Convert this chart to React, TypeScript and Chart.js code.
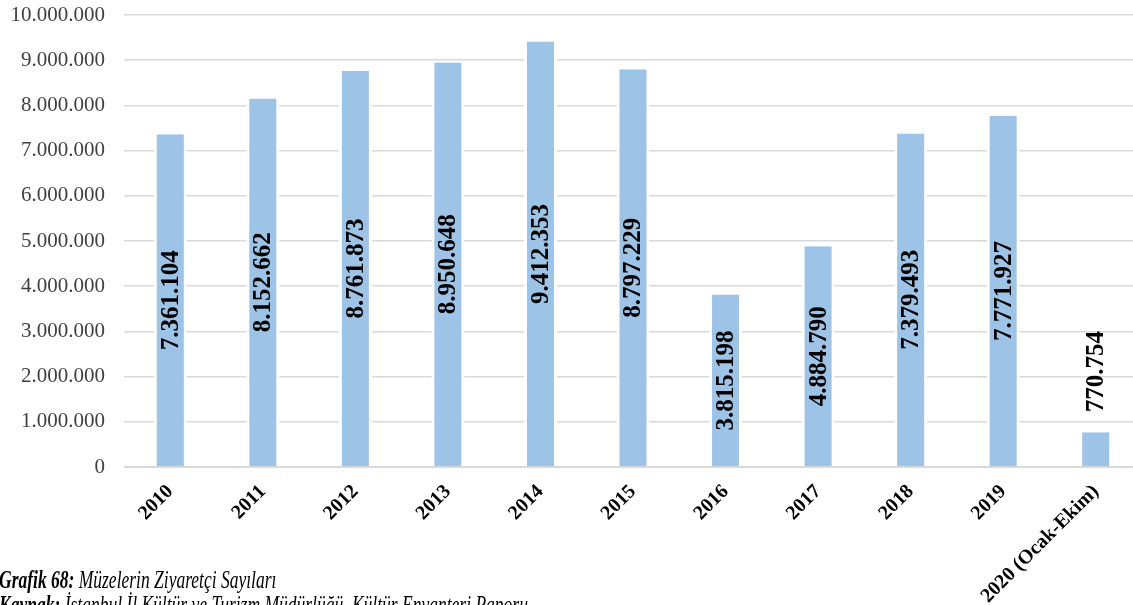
import React, { useEffect, useRef } from "react";
import { Chart, registerables } from "chart.js";

Chart.register(...registerables);

const categories = [
  "2010",
  "2011",
  "2012",
  "2013",
  "2014",
  "2015",
  "2016",
  "2017",
  "2018",
  "2019",
  "2020 (Ocak-Ekim)",
];
const visitors = [
  7361104, 8152662, 8761873, 8950648, 9412353, 8797229, 3815198, 4884790,
  7379493, 7771927, 770754,
];
const yMin = 0;
const yMax = 10000000;
const yStep = 1000000;
const captionTitle = "Grafik 68:";
const captionText = "Müzelerin Ziyaretçi Sayıları";
const sourceTitle = "Kaynak:";
const sourceText = "İstanbul İl Kültür ve Turizm Müdürlüğü, Kültür Envanteri Raporu";

const fmt = (v: number) =>
  String(Math.round(v)).replace(/\B(?=(\d{3})+(?!\d))/g, ".");

const SERIF = "'Liberation Serif', 'Times New Roman', serif";
const GRID = "#D9D9D9";

const barLabels = {
  id: "barLabels",
  afterDatasetsDraw(chart: any) {
    const ctx = chart.ctx;
    const meta = chart.getDatasetMeta(0);
    const yScale = chart.scales.y;
    const area = chart.chartArea;
    ctx.save();
    const y0 = yScale.getPixelForValue(0);
    ctx.strokeStyle = GRID;
    ctx.lineWidth = 2;
    ctx.beginPath();
    ctx.moveTo(area.left, y0);
    ctx.lineTo(area.right, y0);
    ctx.stroke();

    ctx.font = `bold 25px ${SERIF}`;
    ctx.fillStyle = "#000";
    ctx.textAlign = "center";
    ctx.textBaseline = "middle";
    meta.data.forEach((bar: any, i: number) => {
      const text = fmt(visitors[i]);
      const w = ctx.measureText(text).width;
      const { x, y, base } = bar.getProps(["x", "y", "base"], true);
      const h = base - y;
      const cy = w + 10 < h ? (y + base) / 2 : y - 20 - w / 2;
      ctx.save();
      ctx.translate(x + 1, cy);
      ctx.rotate(-Math.PI / 2);
      ctx.fillText(text, 0, 0);
      ctx.restore();
    });
    ctx.restore();
  },
};

function ChartCanvas() {
  const ref = useRef<HTMLCanvasElement | null>(null);
  useEffect(() => {
    if (!ref.current) return;
    const chart = new Chart(ref.current, {
      type: "bar",
      data: {
        labels: categories,
        datasets: [
          {
            data: visitors,
            backgroundColor: "#9DC3E6",
            borderColor: "#FFFFFF",
            borderWidth: { left: 3, right: 3, top: 0, bottom: 0 } as any,
            borderSkipped: false,
            barPercentage: 0.3566,
            categoryPercentage: 1,
          },
        ],
      },
      options: {
        responsive: false,
        animation: false,
        devicePixelRatio: 1,
        layout: { padding: { top: 15, right: 8, bottom: 0, left: 0 } },
        plugins: {
          legend: { display: false },
          tooltip: { enabled: false },
          title: { display: false },
        },
        scales: {
          x: {
            grid: { display: false, drawTicks: false },
            border: { display: false },
            ticks: {
              color: "#000",
              font: { family: SERIF, size: 20, weight: "bold" },
              maxRotation: 45,
              minRotation: 45,
              padding: 13,
              autoSkip: false,
            },
            afterFit: (s: any) => {
              s.height = 138;
            },
          },
          y: {
            min: yMin,
            max: yMax,
            grid: { color: GRID, lineWidth: 1.5, drawTicks: false },
            border: { display: false },
            ticks: {
              stepSize: yStep,
              color: "#404040",
              font: { family: SERIF, size: 21 },
              padding: 19,
              callback: (v: any) => fmt(Number(v)),
            },
            afterFit: (s: any) => {
              s.width = 124;
              s.paddingTop = 0;
              s.paddingBottom = 0;
            },
          },
        },
      },
      plugins: [barLabels],
    });
    return () => chart.destroy();
  }, []);
  return (
    <canvas
      ref={ref}
      width={1150}
      height={605}
      style={{ position: "absolute", left: 0, top: 0, display: "block" }}
    />
  );
}

export default function App() {
  return (
    <div
      style={{
        position: "fixed",
        left: 0,
        top: 0,
        width: 1133,
        height: 605,
        overflow: "hidden",
        background: "#fff",
      }}
    >
      <ChartCanvas />
      <div
        style={{
          position: "absolute",
          left: -1,
          top: 567,
          transform: "scaleX(0.7)",
          transformOrigin: "left top",
          fontFamily: SERIF,
          fontStyle: "italic",
          fontSize: 25,
          lineHeight: "25px",
          whiteSpace: "nowrap",
          color: "#000",
        }}
      >
        <div>
          <b>{captionTitle}</b> {captionText}
        </div>
        <div>
          <b>{sourceTitle}</b> {sourceText}
        </div>
      </div>
    </div>
  );
}
